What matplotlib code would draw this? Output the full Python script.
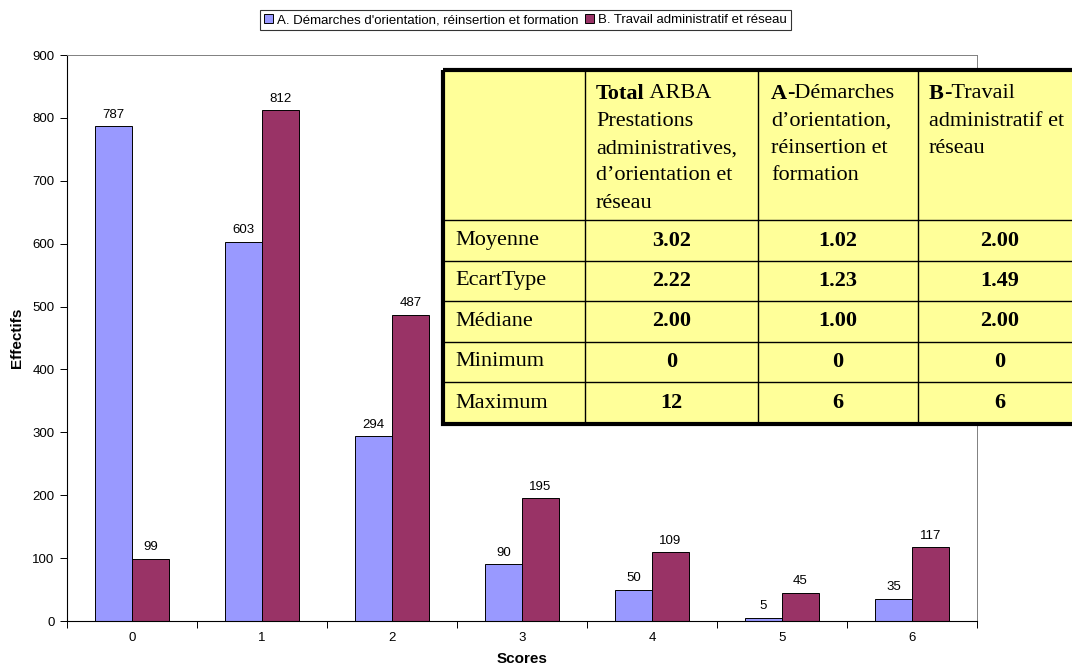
import matplotlib.pyplot as plt
import numpy as np
from matplotlib.patches import Rectangle

scores = [0, 1, 2, 3, 4, 5, 6]
serie_a = [787, 603, 294, 90, 50, 5, 35]
serie_b = [99, 812, 487, 195, 109, 45, 117]
label_a = "A. Démarches d'orientation, réinsertion et formation"
label_b = "B. Travail administratif et réseau"

row_names = ["Moyenne", "EcartType", "Médiane", "Minimum", "Maximum"]
col_total = ["3.02", "2.22", "2.00", "0", "12"]
col_a = ["1.02", "1.23", "1.00", "0", "6"]
col_b = ["2.00", "1.49", "2.00", "0", "6"]
# each header line: (bold part, normal part)
head_total = [("Total", " ARBA"), ("", "Prestations"), ("", "administratives,"),
              ("", "d\u2019orientation et"), ("", "réseau")]
head_a = [("A", "-Démarches"), ("", "d\u2019orientation,"), ("", "réinsertion et"), ("", "formation")]
head_b = [("B", "-Travail"), ("", "administratif et"), ("", "réseau")]

plt.rcParams['font.family'] = ['Liberation Sans', 'DejaVu Sans']

W, H = 1072, 671
fig = plt.figure(figsize=(W / 100, H / 100), dpi=100)
ax = fig.add_axes([67 / W, 1 - 621 / H, 910 / W, 566 / H])

x = np.array(scores)
w = 0.285
ax.bar(x - w / 2, serie_a, w, color='#9999FF', edgecolor='black', linewidth=0.7, label=label_a)
ax.bar(x + w / 2, serie_b, w, color='#993366', edgecolor='black', linewidth=0.7, label=label_b)
for xi, a, b in zip(x, serie_a, serie_b):
    ax.annotate(str(a), (xi - w / 2, a), xytext=(0, 4), textcoords='offset points',
                ha='center', va='bottom', fontsize=9.5)
    ax.annotate(str(b), (xi + w / 2, b), xytext=(0, 4), textcoords='offset points',
                ha='center', va='bottom', fontsize=9.5)

ax.set_xlim(-0.5, 6.5)
ax.set_ylim(0, 900)
ax.set_yticks(range(0, 901, 100))
ax.set_xticks(scores)
ax.set_xticklabels([str(s) for s in scores])
ax.set_xticks(np.arange(-0.5, 7, 1), minor=True)
ax.tick_params(axis='x', which='major', length=0, pad=8, labelsize=9.5)
ax.tick_params(axis='x', which='minor', length=5, width=0.7, direction='out')
ax.tick_params(axis='y', length=5, width=0.7, labelsize=9.5, pad=4)
for s in ['top', 'right']:
    ax.spines[s].set_color('#808080')
    ax.spines[s].set_linewidth(0.7)
for s in ['left', 'bottom']:
    ax.spines[s].set_linewidth(0.8)
ax.set_ylabel("Effectifs", fontsize=11, fontweight='bold', labelpad=6)
ax.set_xlabel("Scores", fontsize=11, fontweight='bold', labelpad=6)

leg = fig.legend(loc='center', bbox_to_anchor=(525.5 / W, 1 - 20 / H), ncol=2, fontsize=9.5,
                 frameon=True, fancybox=False, edgecolor='black', handlelength=0.7,
                 handleheight=0.7, handletextpad=0.3, columnspacing=0.5, borderpad=0.3)
leg.get_frame().set_linewidth(0.8)

# statistics table, drawn in pixel coordinates
x0, x1, y0, y1 = 443, 1082, 70, 424
cols = [443, 585, 758, 918, 1082]
rows = [70, 220, 261, 301, 342, 382, 424]
tab = fig.add_axes([x0 / W, 1 - y1 / H, (x1 - x0) / W, (y1 - y0) / H])
tab.set_xlim(x0, x1)
tab.set_ylim(y1, y0)
tab.axis('off')
tab.add_patch(Rectangle((x0, y0), x1 - x0, y1 - y0, facecolor='#FFFF99', edgecolor='none'))
for cx in cols[1:-1]:
    tab.plot([cx, cx], [y0, y1], color='black', lw=1.0)
for ry in rows[1:-1]:
    tab.plot([x0, x1], [ry, ry], color='black', lw=1.0)
tab.add_patch(Rectangle((x0, y0), x1 - x0, y1 - y0, facecolor='none', edgecolor='black', lw=3,
                        clip_on=False))

serif = ['Liberation Serif', 'DejaVu Serif']
fs = 16
renderer = fig.canvas.get_renderer()


def header(lines, xs):
    y = 94
    for bold, normal in lines:
        xx = xs
        if bold:
            t = tab.text(xx, y, bold, family=serif, fontsize=fs, fontweight='bold', va='center', ha='left')
            bb = t.get_window_extent(renderer)
            xx = xx + bb.width
        tab.text(xx, y, normal, family=serif, fontsize=fs, va='center', ha='left')
        y += 27.3


header(head_total, 596)
header(head_a, 771)
header(head_b, 929)

for i, name in enumerate(row_names):
    yc = (rows[i + 1] + rows[i + 2]) / 2
    tab.text(455, yc, name, family=serif, fontsize=fs, va='center', ha='left')
    for j, col in enumerate([col_total, col_a, col_b]):
        xc = (cols[j + 1] + cols[j + 2]) / 2
        tab.text(xc, yc, col[i], family=serif, fontsize=fs, fontweight='bold', va='center', ha='center')

fig.savefig("out.png", dpi=100)
